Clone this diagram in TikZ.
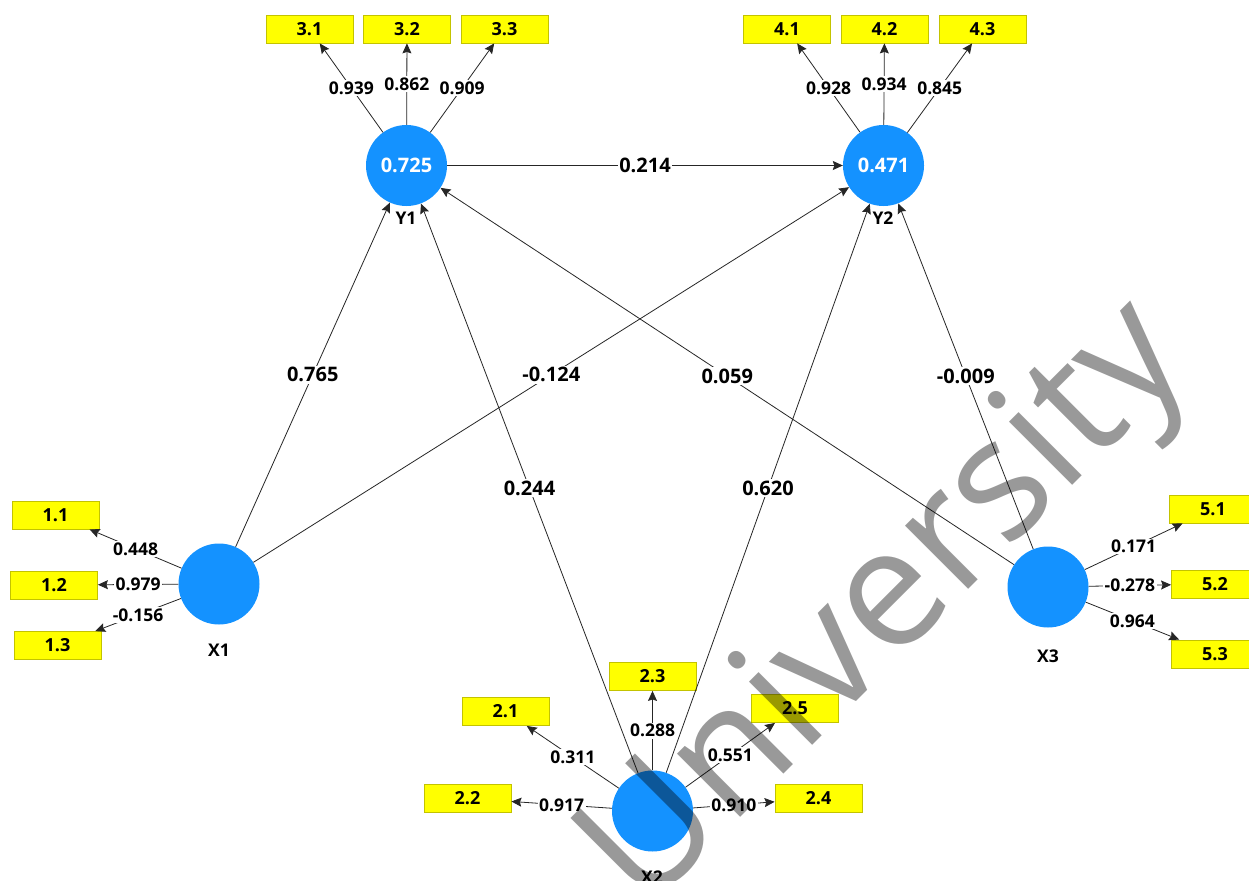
\documentclass[tikz,border=0pt]{standalone}
\usepackage{fontspec}
\setmainfont{Open Sans}
\usetikzlibrary{arrows.meta}
\definecolor{lvblue}{RGB}{20,146,255}
\definecolor{boxyellow}{RGB}{255,255,0}
\definecolor{boxedge}{RGB}{195,195,0}
\begin{document}
\begin{tikzpicture}[x=1pt,y=-1pt,
  lv/.style={circle,fill=lvblue,minimum size=81pt,inner sep=0pt,text=white,font=\bfseries\fontsize{20}{21}\selectfont},
  ind/.style={draw=boxedge,fill=boxyellow,line width=0.8pt,minimum width=87pt,minimum height=28pt,inner sep=0pt,font=\bfseries\fontsize{18}{19}\selectfont},
  lvname/.style={font=\bfseries\fontsize{17.5}{18}\selectfont},
  conn/.style={draw=black!85,line width=0.8pt,-{Stealth[length=10pt,width=9pt,inset=1.5pt]}},
  pathlbl/.style={fill=white,inner sep=1.5pt,font=\bfseries\fontsize{20}{21}\selectfont,midway},
  loadlbl/.style={fill=white,inner sep=1.5pt,font=\bfseries\fontsize{17.5}{18}\selectfont,midway},
  wmark/.style={text=black,text opacity=0.4,font=\fontsize{167}{167}\selectfont,inner sep=0pt}
]
\useasboundingbox (0,0) rectangle (1249,880);
\clip (0,0) rectangle (1249,880);
\fill[white] (0,0) rectangle (1249,880);

% latent variables
\node[lv] (Y1) at (406.5,165.5) {0.725};
\node[lv] (Y2) at (883.5,165.5) {0.471};
\node[lv] (X1) at (219,584) {};
\node[lv] (X2) at (652.5,811) {};
\node[lv] (X3) at (1048,587) {};

\node[lvname] (nY1) at (406,218) {Y1};
\node[lvname] (nY2) at (883,218) {Y2};
\node[lvname] (nX1) at (219,650) {X1};
\node[lvname] (nX2) at (652,877) {X2};
\node[lvname] (nX3) at (1048,656) {X3};

% indicators
\node[ind] (i31) at (309.5,29) {3.1};
\node[ind] (i32) at (407,29) {3.2};
\node[ind] (i33) at (504.5,29) {3.3};
\node[ind] (i41) at (787,29) {4.1};
\node[ind] (i42) at (884.5,29) {4.2};
\node[ind] (i43) at (982.5,29) {4.3};
\node[ind] (i11) at (55.5,515) {1.1};
\node[ind] (i12) at (54,585) {1.2};
\node[ind] (i13) at (57.5,645.5) {1.3};
\node[ind] (i21) at (505.5,711.5) {2.1};
\node[ind] (i22) at (467.5,798.5) {2.2};
\node[ind] (i23) at (652.5,676.5) {2.3};
\node[ind] (i24) at (818.5,798.5) {2.4};
\node[ind] (i25) at (795,708.5) {2.5};
\node[ind] (i51) at (1213,509) {5.1};
\node[ind] (i52) at (1215,584) {5.2};
\node[ind] (i53) at (1215,654) {5.3};

% structural paths
\draw[conn] (Y1) -- node[pathlbl] {0.214} (Y2);
\draw[conn] (X1) -- node[pathlbl] {0.765} (Y1);
\draw[conn] (X1) -- node[pathlbl] {-0.124} (Y2);
\draw[conn] (X2) -- node[pathlbl] {0.244} (Y1);
\draw[conn] (X2) -- node[pathlbl] {0.620} (Y2);
\draw[conn] (X3) -- node[pathlbl] {0.059} (Y1);
\draw[conn] (X3) -- node[pathlbl] {-0.009} (Y2);

% loadings
\draw[conn] (Y1) -- node[loadlbl] {0.939} (i31);
\draw[conn] (Y1) -- node[loadlbl] {0.862} (i32);
\draw[conn] (Y1) -- node[loadlbl] {0.909} (i33);
\draw[conn] (Y2) -- node[loadlbl] {0.928} (i41);
\draw[conn] (Y2) -- node[loadlbl] {0.934} (i42);
\draw[conn] (Y2) -- node[loadlbl] {0.845} (i43);
\draw[conn] (X1) -- node[loadlbl] {0.448} (i11);
\draw[conn] (X1) -- node[loadlbl] {0.979} (i12);
\draw[conn] (X1) -- node[loadlbl] {-0.156} (i13);
\draw[conn] (X2) -- node[loadlbl] {0.311} (i21);
\draw[conn] (X2) -- node[loadlbl] {0.917} (i22);
\draw[conn] (X2) -- node[loadlbl] {0.288} (i23);
\draw[conn] (X2) -- node[loadlbl] {0.910} (i24);
\draw[conn] (X2) -- node[loadlbl] {0.551} (i25);
\draw[conn] (X3) -- node[loadlbl] {0.171} (i51);
\draw[conn] (X3) -- node[loadlbl] {-0.278} (i52);
\draw[conn] (X3) -- node[loadlbl] {0.964} (i53);

% watermark
\node[wmark,rotate=45,anchor=base] (wm) at (919,639) {University};
\end{tikzpicture}
\end{document}
